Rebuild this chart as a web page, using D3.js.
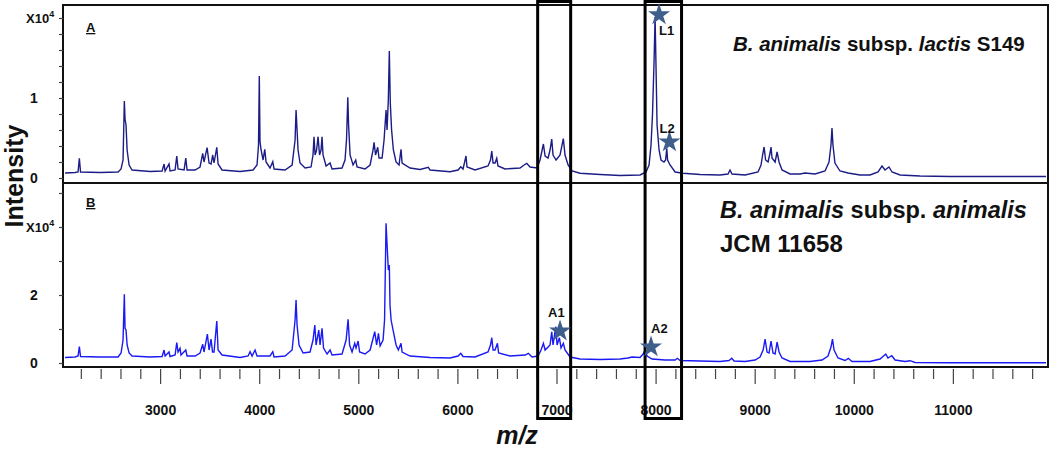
<!DOCTYPE html>
<html>
<head>
<meta charset="utf-8">
<script src="https://cdn.jsdelivr.net/npm/d3@7"></script>
<style>
  body { margin: 0; background: #fff; }
  svg { font-family: "Liberation Sans", Arial, sans-serif; }
</style>
</head>
<body>
<div id="chart"></div>
<script>
// spectrum A: B. animalis subsp. lactis S149 (m/z, intensity)
var specA = [
  [2041,625],[2142,690],[2172,750],[2185,2463],[2197,750],[2394,690],[2576,750],[2606,1125],[2626,2250],
  [2639,9625],[2646,7375],[2656,6625],[2667,3500],[2687,1625],[2717,1000],[2899,810],[3020,875],[3040,1750],
  [3050,875],[3090,1750],[3100,875],[3151,1000],[3168,2750],[3181,1125],[3242,1000],[3259,2500],[3272,1000],
  [3353,1000],[3403,1375],[3430,3088],[3443,2000],[3474,3788],[3494,1875],[3514,1750],[3531,2875],[3544,1875],
  [3572,3838],[3585,1750],[3625,1000],[3807,810],[3938,1000],[3978,1625],[3993,4125],[4001,12750],[4008,4538],
  [4019,3500],[4039,2250],[4056,3588],[4069,2000],[4109,1250],[4137,2038],[4150,1125],[4261,1000],[4332,1625],
  [4362,4750],[4372,8500],[4382,6000],[4392,3500],[4412,1875],[4463,1250],[4523,1375],[4543,2875],[4553,5163],
  [4564,2875],[4579,3500],[4594,5163],[4609,2875],[4624,3500],[4634,5163],[4644,2875],[4675,1500],[4715,1875],
  [4735,1125],[4836,1250],[4866,2250],[4881,4750],[4894,10088],[4902,6625],[4917,2875],[4947,1625],[4974,2250],
  [4987,1375],[5068,1125],[5119,1625],[5149,3500],[5159,4463],[5174,2875],[5196,3838],[5209,2500],[5240,2500],
  [5260,4750],[5280,8500],[5290,6000],[5303,9750],[5313,15875],[5323,9338],[5336,6000],[5354,3500],[5381,2000],
  [5411,1625],[5431,3588],[5442,1875],[5522,1250],[5623,1063],[5707,1338],[5724,1000],[5926,788],[6007,1000],
  [6034,1413],[6057,1125],[6087,2750],[6097,1375],[6178,1000],[6309,1500],[6334,2250],[6347,3375],[6360,1875],
  [6380,1875],[6397,2463],[6410,1500],[6481,1125],[6632,1250],[6673,1625],[6700,1838],[6733,1375],[6804,1250],
  [6834,2250],[6868,4250],[6885,2750],[6915,2500],[6935,3500],[6952,4875],[6965,2875],[6996,2250],[7036,2875],
  [7069,4913],[7086,2875],[7117,1625],[7157,875],[7238,588],[7440,438],[7641,313],[7843,375],[7904,750],
  [7934,1625],[7954,4125],[7969,8000],[7985,14750],[7995,20125],[8005,13500],[8015,6625],[8035,3500],[8055,2250],
  [8085,2000],[8101,2250],[8113,3713],[8121,2250],[8146,1625],[8197,750],[8277,588],[8449,438],[8650,375],
  [8731,500],[8751,1000],[8771,500],[8903,375],[9034,750],[9064,1625],[9080,2875],[9095,3875],[9110,2250],
  [9135,2000],[9155,3125],[9165,3875],[9175,2500],[9206,2000],[9226,3250],[9246,2000],[9276,1000],[9357,500],
  [9458,500],[9508,625],[9609,500],[9710,875],[9750,2000],[9770,4125],[9780,6250],[9790,4125],[9810,1875],
  [9861,875],[9942,625],[10063,375],[10164,375],[10245,750],[10285,1500],[10315,1000],[10355,1375],[10386,750],
  [10467,375],[10669,250],[10971,188],[11476,188],[11940,188]
];

// spectrum B: B. animalis subsp. animalis JCM 11658 (m/z, intensity)
var specB = [
  [2041,1617],[2142,1764],[2172,2058],[2185,4792],[2197,1911],[2394,1764],[2576,1764],[2606,2940],[2626,6762],
  [2639,20198],[2646,10202],[2656,9702],[2667,5292],[2687,2940],[2717,2058],[2899,1764],[3020,1911],[3040,3822],
  [3050,2058],[3090,3234],[3100,1911],[3151,2352],[3168,5968],[3181,3234],[3201,4322],[3211,2352],[3259,3822],
  [3272,2058],[3353,2058],[3403,2940],[3430,5498],[3443,3234],[3477,8526],[3494,3822],[3514,7056],[3529,3234],
  [3544,3234],[3572,12348],[3585,3822],[3625,2352],[3807,1617],[3888,2058],[3908,3322],[3928,2058],[3958,3822],
  [3978,2058],[4109,2058],[4137,3322],[4150,1764],[4261,2058],[4332,3822],[4362,12642],[4372,18522],[4382,11172],
  [4402,5292],[4443,2940],[4513,3234],[4543,6762],[4561,11172],[4574,5292],[4601,9702],[4614,5292],[4634,10202],
  [4649,4410],[4685,2646],[4715,3822],[4735,2352],[4836,2646],[4877,6762],[4897,12848],[4912,5292],[4937,3234],
  [4964,5792],[4977,4410],[4998,6468],[5013,3234],[5068,2646],[5119,3822],[5166,9202],[5185,5292],[5203,8732],
  [5220,4998],[5250,6762],[5265,12642],[5280,41072],[5293,33222],[5303,27342],[5313,28812],[5320,17052],
  [5331,12642],[5354,9202],[5381,5292],[5404,3822],[5431,5792],[5442,3234],[5522,2058],[5724,1617],[5926,1470],
  [6007,2058],[6034,2852],[6057,1911],[6178,1764],[6309,3234],[6334,5292],[6347,7438],[6360,3822],[6380,3822],
  [6404,5792],[6416,2940],[6531,2058],[6683,2352],[6716,2852],[6753,1764],[6814,2058],[6844,3822],[6868,5792],
  [6885,3822],[6918,4792],[6935,5292],[6952,9202],[6965,5292],[6993,10672],[7006,5292],[7029,7438],[7046,4410],
  [7069,5792],[7086,3822],[7137,1764],[7238,1176],[7440,1029],[7641,1176],[7722,1470],[7763,1764],[7843,1617],
  [7874,2646],[7894,3822],[7914,2058],[7964,1176],[8096,882],[8197,882],[8220,1382],[8247,735],[8449,588],
  [8650,441],[8741,735],[8769,1382],[8792,588],[8903,441],[9004,882],[9054,1764],[9085,3822],[9105,7056],
  [9125,3234],[9145,2940],[9165,6468],[9185,2940],[9206,2646],[9226,6174],[9246,3234],[9276,1470],[9357,441],
  [9559,441],[9680,882],[9740,2058],[9770,4704],[9785,7056],[9801,3822],[9841,1470],[9912,735],[9945,1382],
  [9982,441],[10164,441],[10265,1176],[10323,2646],[10345,1470],[10383,2146],[10417,882],[10518,441],[10568,676],
  [10618,147],[10971,88],[11476,88],[11940,88]
];

// axis ticks
var xMinorTicks = d3.range(2200, 11801, 200);
var xMajorTicks = [3000, 4000, 5000, 6000, 7000, 8000, 9000, 10000, 11000];
var yTicksA = [0, 2000, 4000, 6000, 8000, 10000, 12000, 14000, 16000, 18000, 20000];
var yLabelsA = [[0, "0"], [10000, "1"], [20000, "X10"]];
var yTicksB = [0, 10000, 20000, 30000, 40000, 50000];
var yLabelsB = [[0, "0"], [20000, "2"], [40000, "X10"]];

// highlighted m/z windows
var boxes = [[6810, 7143], [7894, 8262]];

// starred peaks: [m/z, intensity, label]
var starsA = [[8035, 20400, "L1"], [8140, 4500, "L2"]];
var starsB = [[7036, 9400, "A1"], [7954, 4700, "A2"]];

var W = 1050, H = 450;
var pLeft = 63, pRight = 1048, pTop = 5, pMid = 183, pBottom = 367;

var svg = d3.select("#chart").append("svg")
  .attr("width", W).attr("height", H);

var x = d3.scaleLinear().domain([2020, 11960]).range([pLeft, pRight]);
var yA = d3.scaleLinear().domain([0, 20000]).range([178, 18]);
var yB = d3.scaleLinear().domain([0, 40000]).range([363, 227]);

// spectra
svg.append("clipPath").attr("id", "clip")
  .append("rect").attr("x", pLeft).attr("y", pTop).attr("width", pRight - pLeft).attr("height", pBottom - pTop);

var lineA = d3.line().x(function(d) { return x(d[0]); }).y(function(d) { return yA(d[1]); });
var lineB = d3.line().x(function(d) { return x(d[0]); }).y(function(d) { return yB(d[1]); });

svg.append("path").datum(specA)
  .attr("d", lineA).attr("fill", "none").attr("stroke", "#1c1c86").attr("stroke-width", 1.4)
  .attr("clip-path", "url(#clip)");
svg.append("path").datum(specB)
  .attr("d", lineB).attr("fill", "none").attr("stroke", "#1a1af5").attr("stroke-width", 1.4)
  .attr("clip-path", "url(#clip)");

// frame
svg.append("rect").attr("x", pLeft).attr("y", pTop).attr("width", pRight - pLeft).attr("height", pBottom - pTop)
  .attr("fill", "none").attr("stroke", "#111").attr("stroke-width", 2);
svg.append("line").attr("x1", pLeft).attr("x2", pRight).attr("y1", pMid).attr("y2", pMid)
  .attr("stroke", "#111").attr("stroke-width", 2);

// x axis (minor + major ticks)
var gxMinor = svg.append("g").attr("transform", "translate(0," + (pBottom + 2) + ")")
  .call(d3.axisBottom(x).tickValues(xMinorTicks.filter(function(v) { return v % 1000 !== 0; }))
    .tickSize(10).tickFormat(""));
var gxMajor = svg.append("g").attr("transform", "translate(0," + (pBottom + 2) + ")")
  .call(d3.axisBottom(x).tickValues(xMajorTicks).tickSize(15).tickPadding(21)
    .tickFormat(function(d) { return d; }));
[gxMinor, gxMajor].forEach(function(g) {
  g.select(".domain").remove();
  g.selectAll(".tick line").attr("stroke", "#444").attr("stroke-width", 1.2);
});
gxMajor.selectAll(".tick text")
  .attr("font-size", 14).attr("font-weight", "bold").attr("fill", "#111")
  .attr("font-family", "Liberation Sans, Arial, sans-serif");

// y axes
function yAxis(scale, ticks) {
  var g = svg.append("g").attr("transform", "translate(" + pLeft + ",0)")
    .call(d3.axisLeft(scale).tickValues(ticks).tickSize(4).tickFormat(""));
  g.select(".domain").remove();
  g.selectAll(".tick line").attr("stroke", "#444").attr("stroke-width", 1.2);
}
yAxis(yA, yTicksA);
yAxis(yB, yTicksB);

function yLabels(scale, labels) {
  labels.forEach(function(l) {
    var t = svg.append("text").attr("y", scale(l[0]) + 5)
      .attr("font-size", 14).attr("font-weight", "bold").attr("fill", "#111");
    if (l[1] === "X10") {
      t.attr("x", 26).attr("font-size", 13).text("X10");
      t.append("tspan").attr("font-size", 9).attr("dy", -6).text("4");
    } else {
      t.attr("x", 34).attr("text-anchor", "middle").text(l[1]);
    }
  });
}
yLabels(yA, yLabelsA);
yLabels(yB, yLabelsB);

// axis titles
svg.append("text").attr("transform", "translate(23,176) rotate(-90)")
  .attr("text-anchor", "middle").attr("font-size", 25).attr("font-weight", "bold").attr("fill", "#111")
  .text("Intensity");
svg.append("text").attr("x", 517).attr("y", 444)
  .attr("text-anchor", "middle").attr("font-size", 25).attr("font-weight", "bold")
  .attr("font-style", "italic").attr("fill", "#111").text("m/z");

// panel letters
svg.append("text").attr("x", 86).attr("y", 32).attr("font-size", 13).attr("font-weight", "bold")
  .attr("text-decoration", "underline").attr("fill", "#111").text("A");
svg.append("text").attr("x", 86).attr("y", 207).attr("font-size", 13).attr("font-weight", "bold")
  .attr("text-decoration", "underline").attr("fill", "#111").text("B");

// strain names
var tA = svg.append("text").attr("x", 733).attr("y", 51).attr("font-size", 20.5)
  .attr("font-weight", "bold").attr("fill", "#111");
tA.append("tspan").attr("font-style", "italic").text("B. animalis");
tA.append("tspan").text(" subsp. ");
tA.append("tspan").attr("font-style", "italic").text("lactis");
tA.append("tspan").text(" S149");

var tB = svg.append("text").attr("x", 720).attr("y", 218).attr("font-size", 23.5)
  .attr("font-weight", "bold").attr("fill", "#111");
tB.append("tspan").attr("font-style", "italic").text("B. animalis");
tB.append("tspan").text(" subsp. ");
tB.append("tspan").attr("font-style", "italic").text("animalis");
svg.append("text").attr("x", 720).attr("y", 252).attr("font-size", 24)
  .attr("font-weight", "bold").attr("fill", "#111").text("JCM 11658");

// boxes
boxes.forEach(function(b) {
  svg.append("rect").attr("x", x(b[0])).attr("y", 1.5)
    .attr("width", x(b[1]) - x(b[0])).attr("height", 417)
    .attr("fill", "none").attr("stroke", "#000").attr("stroke-width", 3);
});

// stars
var star = d3.symbol().type(d3.symbolStar).size(150);
function drawStars(list, scale, labelOffsets) {
  list.forEach(function(s, i) {
    var cx = x(s[0]), cy = scale(s[1]);
    svg.append("path").attr("d", star).attr("transform", "translate(" + cx + "," + cy + ")")
      .attr("fill", "#3e5f8a");
    svg.append("text").attr("x", cx + labelOffsets[i][0]).attr("y", cy + labelOffsets[i][1])
      .attr("font-size", 13).attr("font-weight", "bold").attr("fill", "#111").text(s[2]);
  });
}
drawStars(starsA, yA, [[0, 20], [-10, -9]]);
drawStars(starsB, yB, [[-12, -14], [0, -14]]);
</script>
</body>
</html>
